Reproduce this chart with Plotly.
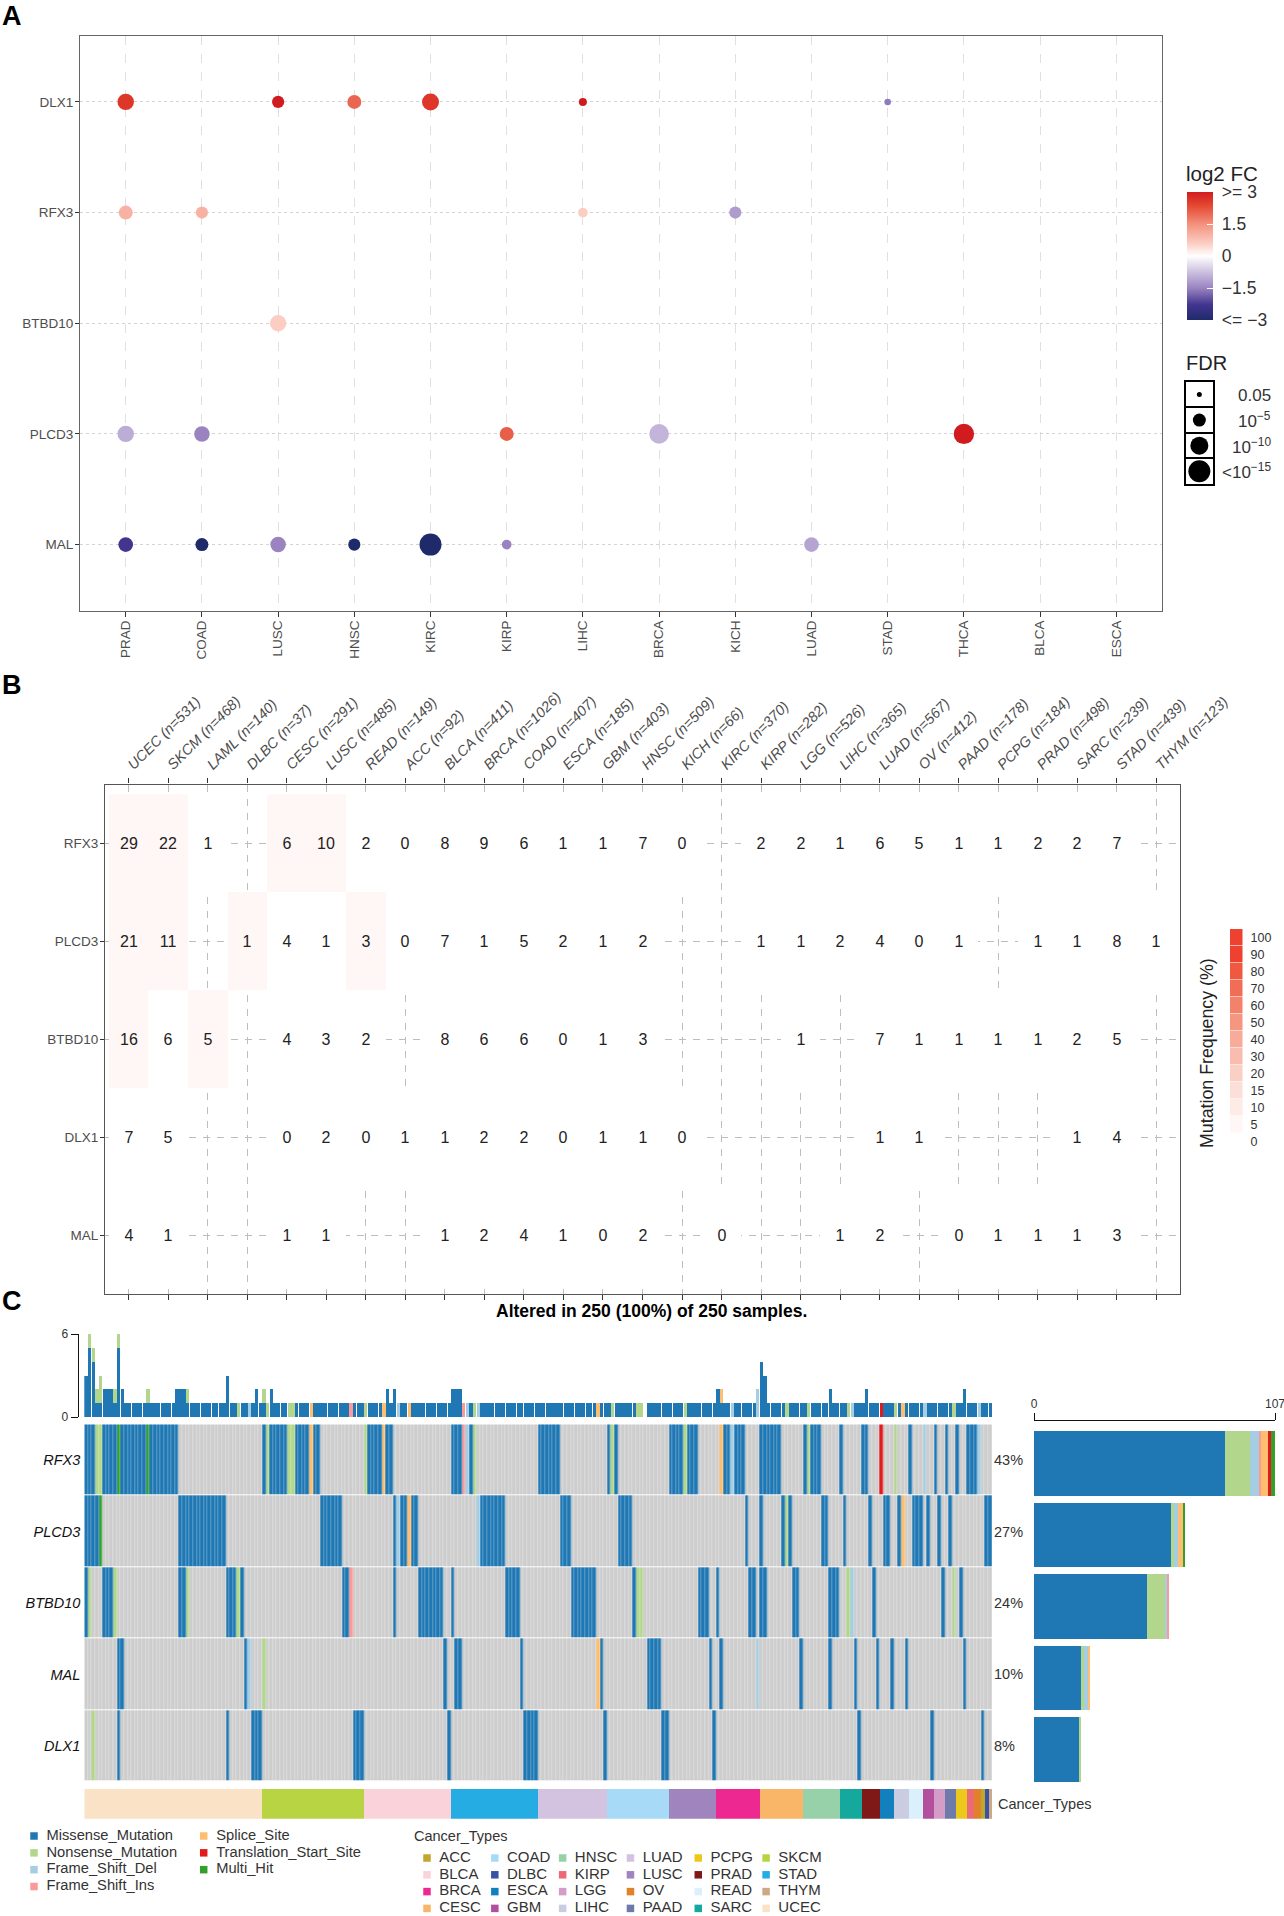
import plotly.graph_objects as go
import numpy as np

W, H = 1284, 1916
FONT = "Liberation Sans"

# ---------- Panel A data ----------
A_CANCERS = ["PRAD","COAD","LUSC","HNSC","KIRC","KIRP","LIHC","BRCA","KICH","LUAD","STAD","THCA","BLCA","ESCA"]
A_GENES = ["DLX1","RFX3","BTBD10","PLCD3","MAL"]
N = None
DLX1_FC    = [2.6,N,3.0,2.0,2.6,N,3.0,N,N,N,-1.6,N,N,N]
RFX3_FC    = [1.0,1.0,N,N,N,N,0.6,N,-1.2,N,N,N,N,N]
BTBD10_FC  = [N,N,0.6,N,N,N,N,N,N,N,N,N,N,N]
PLCD3_FC   = [-1.0,-1.5,N,N,N,2.1,N,-0.9,N,N,N,3.0,N,N]
MAL_FC     = [-2.3,-3.0,-1.5,-3.0,-3.0,-1.5,N,N,N,-1.1,N,N,N,N]
DLX1_LFDR   = [8.4,N,4.6,6,9,N,2.7,N,N,N,2,N,N,N]
RFX3_LFDR   = [6,4.6,N,N,N,N,3.5,N,4.6,N,N,N,N,N]
BTBD10_LFDR = [N,N,8.4,N,N,N,N,N,N,N,N,N,N,N]
PLCD3_LFDR  = [8.4,7.5,N,N,N,6,N,12,N,N,N,13,N,N]
MAL_LFDR    = [6.7,5,7.5,4.6,15,3.5,N,N,N,6.7,N,N,N,N]
FDR_LEVELS = [1.3, 5, 10, 15]
FDR_LABELS = ["0.05", "10<sup>−5</sup>", "10<sup>−10</sup>", "<10<sup>−15</sup>"]
FDR_SIZES  = [5, 13, 18, 22]
FC_TICKS = [-3, -1.5, 0, 1.5, 3]
FC_LABELS = ["\u00a0<= −3", "\u00a0−1.5", "\u00a00", "\u00a01.5", "\u00a0>= 3"]

# ---------- Panel B data ----------
B_CANCERS = ["UCEC","SKCM","LAML","DLBC","CESC","LUSC","READ","ACC","BLCA","BRCA","COAD","ESCA","GBM","HNSC","KICH","KIRC","KIRP","LGG","LIHC","LUAD","OV","PAAD","PCPG","PRAD","SARC","STAD","THYM"]
B_N = [531,468,140,37,291,485,149,92,411,1026,407,185,403,509,66,370,282,526,365,567,412,178,184,498,239,439,123]
B_GENES = ["RFX3","PLCD3","BTBD10","DLX1","MAL"]
B_RFX3   = [29,22,1,N,6,10,2,0,8,9,6,1,1,7,0,N,2,2,1,6,5,1,1,2,2,7,N]
B_PLCD3  = [21,11,N,1,4,1,3,0,7,1,5,2,1,2,N,N,1,1,2,4,0,1,N,1,1,8,1]
B_BTBD10 = [16,6,5,N,4,3,2,N,8,6,6,0,1,3,N,N,N,1,N,7,1,1,1,1,2,5,N]
B_DLX1   = [7,5,N,N,0,2,0,1,1,2,2,0,1,1,0,N,N,N,N,1,1,N,N,N,1,4,N]
B_MAL    = [4,1,N,N,1,1,N,N,1,2,4,1,0,2,N,0,N,N,1,2,N,0,1,1,1,3,N]
MF_LABELS = [0,5,10,15,20,30,40,50,60,70,80,90,100]
MF_EDGES  = [0,2,10,15,20,30,40,50,60,70,80,90,100]
MF_COLORS = ["#ffffff","#fff7f5","#fdebe6","#fcdfd8","#fad0c5","#f9bdaf","#f7ab98","#f59680","#f4826b","#f26d55","#f0583f","#ef4130","#ee2024"]

# ---------- Panel C data ----------
TYPES = ["Missense_Mutation","Nonsense_Mutation","Frame_Shift_Del","Frame_Shift_Ins","Splice_Site","Translation_Start_Site","Multi_Hit"]
TYPE_CODES = ["M","N","D","I","S","T","H"]
TYPE_COLORS = ["#1f78b4","#b2d78c","#a6cee3","#fb9a99","#fdbf6f","#e31a1c","#33a02c"]
GENES_C = ["RFX3","PLCD3","BTBD10","MAL","DLX1"]
PCT_C = ["43%","27%","24%","10%","8%"]
# (first sample, last sample, mutation code)
C_RFX3 = [(0,2,"M"),(3,4,"N"),(5,8,"M"),(9,9,"H"),(10,16,"M"),(17,17,"H"),(18,25,"M"),(49,49,"M"),(50,50,"N"),(51,55,"M"),(56,57,"N"),(58,61,"M"),(62,62,"S"),(63,64,"M"),(77,77,"N"),(78,81,"M"),(82,82,"S"),(83,84,"M"),(101,103,"M"),(104,104,"I"),(105,105,"D"),(106,106,"M"),(107,107,"N"),(125,130,"M"),(144,144,"M"),(145,145,"N"),(146,146,"M"),(161,164,"M"),(165,165,"N"),(166,168,"M"),(175,175,"S"),(176,177,"M"),(178,178,"D"),(179,181,"M"),(186,191,"M"),(198,198,"M"),(199,199,"N"),(200,202,"M"),(208,208,"M"),(214,215,"M"),(219,219,"T"),(223,223,"N"),(227,227,"M"),(231,231,"D"),(234,234,"M"),(237,237,"M"),(240,240,"M"),(243,245,"M"),(246,246,"D")]
C_PLCD3 = [(0,3,"M"),(4,4,"H"),(26,38,"M"),(65,70,"M"),(85,85,"M"),(86,86,"D"),(87,88,"M"),(89,89,"S"),(90,91,"M"),(108,108,"D"),(109,115,"M"),(131,133,"M"),(147,150,"M"),(182,182,"M"),(186,186,"M"),(192,192,"M"),(193,193,"N"),(194,194,"M"),(203,204,"M"),(209,209,"M"),(216,216,"M"),(220,221,"M"),(224,224,"M"),(225,225,"S"),(228,230,"M"),(232,232,"M"),(235,235,"M"),(238,238,"M"),(248,249,"M")]
C_BTBD10 = [(0,0,"M"),(1,1,"N"),(5,7,"M"),(8,8,"N"),(26,27,"M"),(28,28,"N"),(39,41,"M"),(42,42,"N"),(43,43,"M"),(71,72,"M"),(73,73,"I"),(85,85,"M"),(92,98,"M"),(101,101,"M"),(116,119,"M"),(134,140,"M"),(151,151,"M"),(152,153,"N"),(169,171,"M"),(174,174,"M"),(183,184,"M"),(186,187,"M"),(195,196,"M"),(205,207,"M"),(210,210,"N"),(211,211,"D"),(217,217,"M"),(236,236,"M"),(239,239,"N"),(241,241,"M")]
C_MAL = [(9,10,"M"),(44,44,"M"),(45,45,"D"),(49,49,"N"),(99,99,"M"),(102,103,"M"),(120,120,"M"),(141,141,"S"),(142,142,"M"),(155,158,"M"),(172,172,"M"),(175,175,"M"),(185,185,"D"),(197,197,"M"),(205,205,"M"),(212,212,"M"),(218,218,"M"),(222,222,"M"),(226,226,"M"),(242,242,"M")]
C_DLX1 = [(2,2,"N"),(9,9,"M"),(39,39,"M"),(46,48,"M"),(74,76,"M"),(100,100,"M"),(121,124,"M"),(143,143,"M"),(159,160,"M"),(173,173,"M"),(213,213,"M"),(233,233,"M"),(247,247,"M")]
TOP_OVERRIDES = {1:{"M":5,"N":1},2:{"M":4,"N":1},9:{"M":5,"N":1},25:{"M":2},39:{"M":3},47:{"M":2},51:{"M":2},83:{"M":2},174:{"M":2},185:{"D":2},186:{"M":4},187:{"M":3},215:{"M":2},242:{"M":2}}
BAR_M = [85,61,50,21,20]
BAR_N = [11,1,8,1,1]
BAR_D = [4,2,1,2,0]
BAR_I = [1,0,1,0,0]
BAR_S = [3,2,0,1,0]
BAR_T = [1,0,0,0,0]
BAR_H = [2,1,0,0,0]
ANNOT_RUNS = [("UCEC",49),("SKCM",28),("BLCA",24),("STAD",24),("LUAD",19),("COAD",17),("LUSC",13),("BRCA",12),("CESC",12),("HNSC",10),("SARC",6),("PRAD",5),("ESCA",4),("LIHC",4),("READ",4),("GBM",3),("LGG",3),("PAAD",3),("PCPG",3),("KIRP",2),("OV",2),("ACC",1),("DLBC",1),("THYM",1)]
LEGEND_TYPES = ["ACC","BLCA","BRCA","CESC","COAD","DLBC","ESCA","GBM","HNSC","KIRP","LGG","LIHC","LUAD","LUSC","OV","PAAD","PCPG","PRAD","READ","SARC","SKCM","STAD","THYM","UCEC"]
TYPE_COL = {"ACC":"#c1a72f","BLCA":"#fad2d9","BRCA":"#ed2891","CESC":"#f9b568","COAD":"#a6daf6","DLBC":"#3953a4","ESCA":"#1280bd","GBM":"#b2509e","HNSC":"#97d1a9","KIRP":"#ea6a75","LGG":"#d49dc7","LIHC":"#cacce2","LUAD":"#d3c3e0","LUSC":"#a084bd","OV":"#e1812a","PAAD":"#6e7baa","PCPG":"#ecc81d","PRAD":"#7e1918","READ":"#daf0fb","SARC":"#15a99d","SKCM":"#b9d442","STAD":"#25ade3","THYM":"#cda885","UCEC":"#fae2c6"}

# ---------- helpers ----------
def xd(a, b): return [a / W, b / W]
def yd(top, bot): return [1 - bot / H, 1 - top / H]
def fdr_size(v): return None if v is None else float(np.interp(v, FDR_LEVELS, FDR_SIZES))
def stepped(edges, colors, lo, hi):
    out = []
    for i in range(len(edges) - 1):
        out.append([(edges[i] - lo) / (hi - lo), colors[i]])
        out.append([(edges[i + 1] - lo) / (hi - lo), colors[i]])
    out.append([1.0, colors[-1]])
    return out
def discrete(colors):
    n = len(colors)
    out = []
    for i, c in enumerate(colors):
        out += [[i / n, c], [(i + 1) / n, c]]
    return out

fig = go.Figure()

# ---------- Panel A ----------
FC_SCALE = [[0,"#1f2a6b"],[0.12,"#43358f"],[0.25,"#9a84c0"],[0.4,"#d6cde6"],[0.5,"#ffffff"],[0.6,"#fbcdc3"],[0.75,"#f4907c"],[0.9,"#e4452f"],[1,"#d01c1f"]]
GENE_FC = dict(zip(A_GENES, [DLX1_FC, RFX3_FC, BTBD10_FC, PLCD3_FC, MAL_FC]))
GENE_LF = dict(zip(A_GENES, [DLX1_LFDR, RFX3_LFDR, BTBD10_LFDR, PLCD3_LFDR, MAL_LFDR]))
for i, g in enumerate(A_GENES):
    xs = [c for c, v in zip(A_CANCERS, GENE_FC[g]) if v is not None]
    cs = [v for v in GENE_FC[g] if v is not None]
    ss = [fdr_size(v) for v in GENE_LF[g] if v is not None]
    mk = dict(color=cs, size=ss, cmin=-3, cmax=3, colorscale=FC_SCALE, line_width=0, opacity=1)
    if i == 0:
        mk.update(showscale=True, colorbar=dict(
            x=1186.5 / W, xanchor="left", xpad=0, y=1 - 256 / H, yanchor="middle", ypad=0,
            len=128 / H, lenmode="fraction", thickness=25.5, thicknessmode="pixels", outlinewidth=0,
            tickmode="array", tickvals=FC_TICKS, ticktext=FC_LABELS, ticks="inside", ticklen=6,
            tickcolor="#ffffff", tickfont=dict(size=17.5, family=FONT, color="#333333")))
    else:
        mk.update(showscale=False)
    fig.add_trace(go.Scatter(x=xs, y=[g] * len(xs), mode="markers", marker=mk, xaxis="x", yaxis="y", showlegend=False, hoverinfo="skip"))

# FDR size legend
fig.add_trace(go.Scatter(x=[0.5] * 4, y=FDR_LABELS, mode="markers",
    marker=dict(color="#000000", size=FDR_SIZES, line_width=0, opacity=1), xaxis="x2", yaxis="y2", showlegend=False, hoverinfo="skip"))

# ---------- Panel B ----------
B_ROWS = [B_RFX3, B_PLCD3, B_BTBD10, B_DLX1, B_MAL]
B_LABELS = [f"<i>{c} (n={n})</i>" for c, n in zip(B_CANCERS, B_N)]
B_Z = [[None if v is None else v / n * 100 for v, n in zip(r, B_N)] for r in B_ROWS]
B_T = [["" if v is None else str(v) for v in r] for r in B_ROWS]
MF_SCALE = stepped(MF_EDGES, MF_COLORS[:-1], 0, 100) + [[1.0, MF_COLORS[-1]]]
fig.add_trace(go.Heatmap(z=B_Z, x=B_LABELS, y=B_GENES, text=B_T, texttemplate="%{text}",
    textfont=dict(size=16, family=FONT, color="#222222"), zmin=0, zmax=100, colorscale=MF_SCALE,
    showscale=False, hoverinfo="skip", xaxis="x3", yaxis="y3"))
fig.add_trace(go.Heatmap(z=[[v] for v in MF_LABELS], y=[str(v) for v in MF_LABELS], x=["f"], zmin=0, zmax=100,
    colorscale=MF_SCALE, showscale=False, ygap=0.6, hoverinfo="skip", xaxis="x4", yaxis="y4"))

# ---------- Panel C ----------
code_idx = {c: i + 1 for i, c in enumerate(TYPE_CODES)}
def expand(runs):
    row = [0] * 250
    for a, b, c in runs:
        for k in range(a, b + 1):
            row[k] = code_idx[c]
    return row
C_ROWS = [C_RFX3, C_PLCD3, C_BTBD10, C_MAL, C_DLX1]
MATRIX = [expand(r) for r in C_ROWS]
fig.add_trace(go.Heatmap(z=MATRIX, y=GENES_C, zmin=-0.5, zmax=7.5, colorscale=discrete(["#cdcdcd"] + TYPE_COLORS),
    showscale=False, xgap=0.3, ygap=1, hoverinfo="skip", xaxis="x6", yaxis="y6"))

# top stacked bars: count per sample, taken from the matrix and corrected where the picture differs
top = {c: [0] * 250 for c in TYPE_CODES[:-1]}
for row in MATRIX:
    for s, v in enumerate(row):
        if v == 0: continue
        c = TYPE_CODES[v - 1]
        if c == "H":
            top["M"][s] += 1; top["N"][s] += 1
        else:
            top[c][s] += 1
for s, d in TOP_OVERRIDES.items():
    for c in top: top[c][s] = d.get(c, 0)
for c, col in zip(TYPE_CODES[:-1], TYPE_COLORS[:-1]):
    fig.add_trace(go.Bar(x=list(range(250)), y=top[c], width=0.92, marker=dict(color=col, line_width=0),
        xaxis="x5", yaxis="y5", showlegend=False, hoverinfo="skip"))

# annotation strip
ANNOT = []
for name, cnt in ANNOT_RUNS:
    ANNOT += [LEGEND_TYPES.index(name)] * cnt
fig.add_trace(go.Heatmap(z=[ANNOT], y=["Cancer_Types"], zmin=-0.5, zmax=23.5,
    colorscale=discrete([TYPE_COL[t] for t in LEGEND_TYPES]), showscale=False, hoverinfo="skip", xaxis="x7", yaxis="y7"))

# right stacked bars
for vals, col in zip([BAR_M, BAR_N, BAR_D, BAR_I, BAR_S, BAR_T, BAR_H], TYPE_COLORS):
    fig.add_trace(go.Bar(x=vals, y=GENES_C, orientation="h", width=0.9, marker=dict(color=col, line_width=0),
        xaxis="x8", yaxis="y8", showlegend=False, hoverinfo="skip"))

# bottom legends, laid out on their own grids
LEG_TXT = dict(size=14.7, family=FONT, color="#333333")
col1 = [i // 4 for i in range(len(TYPES))]
row1 = [i % 4 for i in range(len(TYPES))]
fig.add_trace(go.Scatter(x=col1, y=row1, mode="markers", marker=dict(symbol="square", size=7.5, color=TYPE_COLORS, opacity=1),
    cliponaxis=False, xaxis="x9", yaxis="y9", showlegend=False, hoverinfo="skip"))
fig.add_trace(go.Scatter(x=[c + 12.5 / 169.7 for c in col1], y=row1, mode="text", text=TYPES, textposition="middle right",
    textfont=LEG_TXT, cliponaxis=False, xaxis="x9", yaxis="y9", showlegend=False, hoverinfo="skip"))
col2 = [i // 4 for i in range(len(LEGEND_TYPES))]
row2 = [i % 4 for i in range(len(LEGEND_TYPES))]
fig.add_trace(go.Scatter(x=col2, y=row2, mode="markers", marker=dict(symbol="square", size=7.5, color=[TYPE_COL[t] for t in LEGEND_TYPES], opacity=1),
    cliponaxis=False, xaxis="x10", yaxis="y10", showlegend=False, hoverinfo="skip"))
fig.add_trace(go.Scatter(x=[c + 0.18 for c in col2], y=row2, mode="text", text=LEGEND_TYPES, textposition="middle right",
    textfont=dict(size=15, family=FONT, color="#333333"), cliponaxis=False, xaxis="x10", yaxis="y10", showlegend=False, hoverinfo="skip"))

# ---------- layout ----------
GREY = "#4d4d4d"
tf13 = dict(size=13.5, family=FONT, color=GREY)
hidden = dict(visible=False, showgrid=False, zeroline=False)
ann = []
def note(text, x, y, size, bold=False, color="#222222", anchor="left", yref="paper", angle=0):
    ann.append(dict(text=f"<b>{text}</b>" if bold else text, x=x, y=y, xref="paper", yref=yref, xanchor=anchor, yanchor="middle",
        showarrow=False, textangle=angle, font=dict(size=size, family=FONT, color=color)))
note("A", 0 / W, 1 - 16 / H, 27, True, "#000000")
note("B", 0 / W, 1 - 685 / H, 27, True, "#000000")
note("C", 0 / W, 1 - 1301 / H, 27, True, "#000000")
note("log2 FC", 1184 / W, 1 - 174 / H, 20.5)
note("FDR", 1184 / W, 1 - 363 / H, 20)
for lab in FDR_LABELS:
    note(lab, 1273 / W, lab, 17, color="#333333", anchor="right", yref="y2")
note("Mutation Frequency (%)", 1207 / W, 1 - 1053 / H, 17.8, angle=-90, anchor="center")
note("Altered in 250 (100%) of 250 samples.", 652 / W, 1 - 1310.5 / H, 17.5, True, "#000000", "center")
note("Cancer_Types", 412 / W, 1 - 1835.7 / H, 14.5, color="#333333")
note("Cancer_Types", 996 / W, "Cancer_Types", 14.5, color="#333333", yref="y7")
for g, p in zip(GENES_C, PCT_C):
    note(p, 992 / W, g, 14.5, color="#333333", yref="y6")

fig.update_layout(
    width=W, height=H, margin=dict(l=0, r=0, t=0, b=0, autoexpand=False), paper_bgcolor="white", plot_bgcolor="white",
    font=dict(family=FONT), barmode="stack", showlegend=False, annotations=ann,
    xaxis=dict(domain=xd(80, 1162), type="category", categoryorder="array", categoryarray=A_CANCERS, tickvals=A_CANCERS,
        range=[-0.6, 13.6], tickangle=-90, tickfont=tf13, ticklabelstandoff=-2, showline=True, mirror=True, linecolor="#666666", linewidth=1.2,
        ticks="outside", ticklen=5, tickcolor="#333333", showgrid=True, gridcolor="#e0e0e0", griddash="dash", gridwidth=1, anchor="y"),
    yaxis=dict(domain=yd(35.5, 611), type="category", categoryorder="array", categoryarray=A_GENES, tickvals=A_GENES,
        range=[4.6, -0.6], tickfont=tf13, ticklabelstandoff=-1, showline=True, mirror=True, linecolor="#666666", linewidth=1.2,
        ticks="outside", ticklen=4, tickcolor="#333333", showgrid=True, gridcolor="#d4d4d4", griddash="dot", gridwidth=1, anchor="x"),
    xaxis2=dict(domain=xd(1186, 1212.7), range=[0, 1], showgrid=False, zeroline=False, showticklabels=False, ticks="",
        showline=True, mirror=True, linecolor="#000000", linewidth=1.5, anchor="y2"),
    yaxis2=dict(domain=yd(381.7, 484), type="category", categoryorder="array", categoryarray=FDR_LABELS, range=[3.5, -0.5],
        showticklabels=False, ticks="", showgrid=False, zeroline=False, showline=True, mirror=True, linecolor="#000000", linewidth=1.5,
        minor=dict(tickvals=[0.5, 1.5, 2.5], showgrid=True, gridcolor="#000000", gridwidth=1.5, ticks=""), anchor="x2"),
    xaxis3=dict(domain=xd(105, 1180), side="top", type="category", categoryorder="array", categoryarray=B_LABELS, tickvals=B_LABELS,
        range=[-0.6, 26.6], tickangle=-45, tickfont=dict(size=14.5, family=FONT, color=GREY), showline=True, mirror="ticks",
        linecolor="#555555", linewidth=1.2, ticks="outside", ticklen=5, tickcolor="#333333",
        showgrid=True, gridcolor="#bdbdbd", griddash="7px,7px", gridwidth=1, anchor="y3"),
    yaxis3=dict(domain=yd(784.5, 1294), type="category", categoryorder="array", categoryarray=B_GENES, tickvals=B_GENES,
        range=[4.6, -0.6], tickfont=tf13, ticklabelstandoff=-1, showline=True, mirror=True, linecolor="#555555", linewidth=1.2,
        ticks="outside", ticklen=4, tickcolor="#333333", showgrid=True, gridcolor="#bdbdbd", griddash="7px,7px", gridwidth=1, anchor="x3"),
    xaxis4=dict(domain=xd(1230, 1242.5), anchor="y4", **hidden),
    yaxis4=dict(domain=yd(929, 1150), side="right", type="category", categoryorder="array", categoryarray=[str(v) for v in MF_LABELS],
        tickvals=[str(v) for v in MF_LABELS], tickfont=dict(size=12.5, family=FONT, color="#333333"), showgrid=False, zeroline=False,
        ticks="", showline=False, anchor="x4", ticklabelstandoff=7),
    xaxis5=dict(domain=xd(84.3, 992), range=[-0.5, 249.5], anchor="y5", **hidden),
    yaxis5=dict(domain=yd(1334, 1417), range=[0, 6], tickvals=[0, 6], anchor="free", position=77.7 / W, showline=True,
        linecolor="#111111", linewidth=1.2, ticks="outside", ticklen=7, tickcolor="#111111", tickfont=dict(size=12, family=FONT, color="#333333"),
        showgrid=False, zeroline=False),
    xaxis6=dict(domain=xd(84.3, 992), range=[-0.5, 249.5], anchor="y6", **hidden),
    yaxis6=dict(domain=yd(1424.3, 1781.7), type="category", categoryorder="array", categoryarray=GENES_C, tickvals=GENES_C,
        ticktext=[f"<i>{g}</i>" for g in GENES_C], range=[4.5, -0.5], tickfont=dict(size=14.5, family=FONT, color="#111111"),
        ticklabelstandoff=3, ticks="", showgrid=False, zeroline=False, showline=False, anchor="x6"),
    xaxis7=dict(domain=xd(84.3, 992), range=[-0.5, 249.5], anchor="y7", **hidden),
    yaxis7=dict(domain=yd(1789, 1818.7), anchor="x7", type="category", **hidden),
    xaxis8=dict(domain=xd(1034, 1275), range=[0, 107], tickvals=[0, 107], side="top", anchor="free", position=1 - 1420 / H,
        showline=True, linecolor="#111111", linewidth=1.2, ticks="outside", ticklen=7, tickcolor="#111111", ticklabeloverflow="allow",
        tickfont=dict(size=12, family=FONT, color="#333333"), showgrid=False, zeroline=False),
    yaxis8=dict(domain=yd(1427.8, 1785.2), type="category", categoryorder="array", categoryarray=GENES_C, range=[4.5, -0.5], anchor="x8", **hidden),
    xaxis9=dict(domain=xd(34, 203.7 + 40), range=[0, 1 + 40 / 169.7], anchor="y9", **hidden),
    yaxis9=dict(domain=yd(1836, 1886.5), range=[3, 0], anchor="x9", **hidden),
    xaxis10=dict(domain=xd(427, 766 + 34), range=[0, 5.5], anchor="y10", **hidden),
    yaxis10=dict(domain=yd(1858, 1908.4), range=[3, 0], anchor="x10", **hidden),
)

fig.write_html("out.html", post_script="document.body.style.margin='0';", config={"displayModeBar": False})
